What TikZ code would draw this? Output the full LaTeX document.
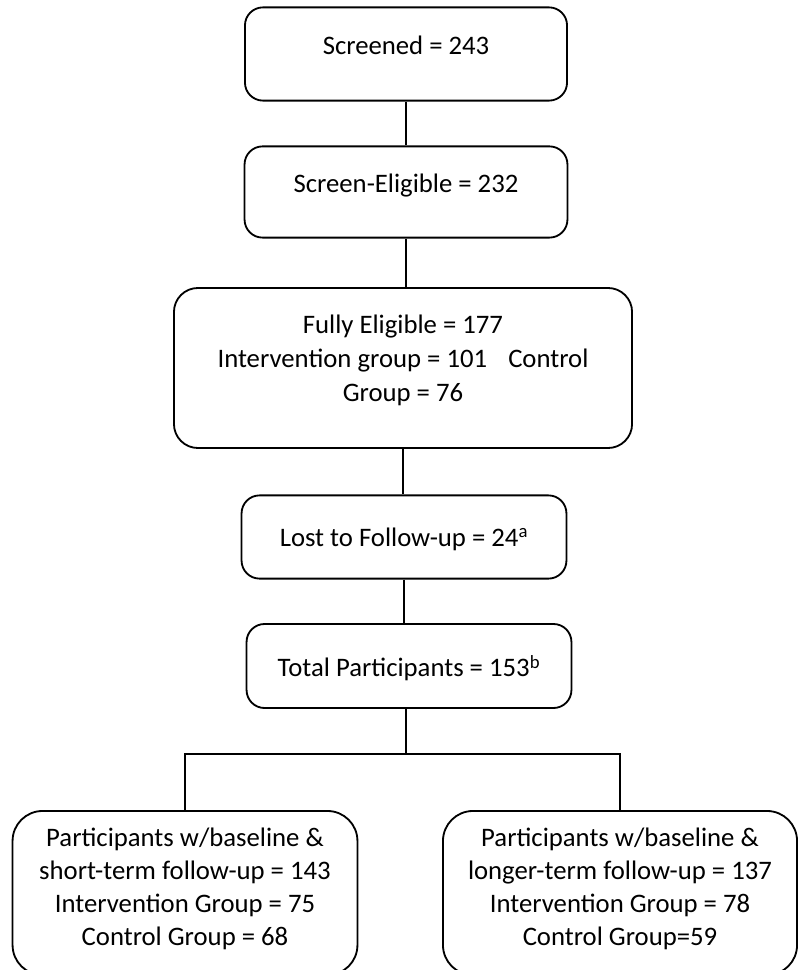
\documentclass[tikz,border=0pt]{standalone}
\usepackage{fontspec}
\setmainfont{Carlito}
\begin{document}
\begin{tikzpicture}[
    x=0.025cm, y=-0.025cm,
    flowbox/.style={rectangle, draw=black, line width=1.3pt, rounded corners=0.45cm, align=center, inner sep=0pt, font=\fontsize{19}{24}\selectfont},
    bigbox/.style={flowbox, rounded corners=0.75cm, font=\fontsize{19}{23.4}\selectfont},
    link/.style={line width=1.3pt}
]
\useasboundingbox (0,0) rectangle (799,970);
\clip (0,0) rectangle (799,970);

\node[flowbox, minimum width=8.05cm, minimum height=2.33cm, text depth=12.8pt] (screened) at (406,54) {Screened = 243};
\node[flowbox, minimum width=8.07cm, minimum height=2.28cm, text depth=12pt] (screenelig) at (406,192) {Screen-Eligible = 232};
\node[flowbox, rounded corners=0.6cm, minimum width=11.45cm, minimum height=4cm, text depth=14pt] (fullelig) at (403,368) {Fully Eligible = 177\\Intervention group = 101\hspace{15pt}Control\\Group = 76};
\node[flowbox, minimum width=8.12cm, minimum height=2.08cm, text depth=0pt] (lost) at (404,537) {Lost to Follow-up = 24\textsuperscript{a}};
\node[flowbox, minimum width=8.12cm, minimum height=2.1cm, text depth=0pt] (total) at (409,666) {Total Participants = 153\textsuperscript{b}};
\node[bigbox, minimum width=8.62cm, minimum height=4.1cm, text depth=8.5pt] (shortfu) at (185,893) {Participants w/baseline \&\\short-term follow-up = 143\\Intervention Group = 75\\Control Group = 68};
\node[bigbox, minimum width=8.85cm, minimum height=4.1cm, text depth=8.5pt] (longfu) at (620,893) {Participants w/baseline \&\\longer-term follow-up = 137\\Intervention Group = 78\\Control Group=59};
\coordinate (split) at (406,754);

\draw[link] (screened) -- (screenelig);
\draw[link] (screenelig) -- (screenelig |- fullelig.north);
\draw[link] (fullelig) -- (fullelig |- lost.north);
\draw[link] (lost) -- (lost |- total.north);
\draw[link] (split |- total.south) -- (split);
\draw[link] (shortfu.north) |- (split) -| (longfu.north);
\end{tikzpicture}
\end{document}
